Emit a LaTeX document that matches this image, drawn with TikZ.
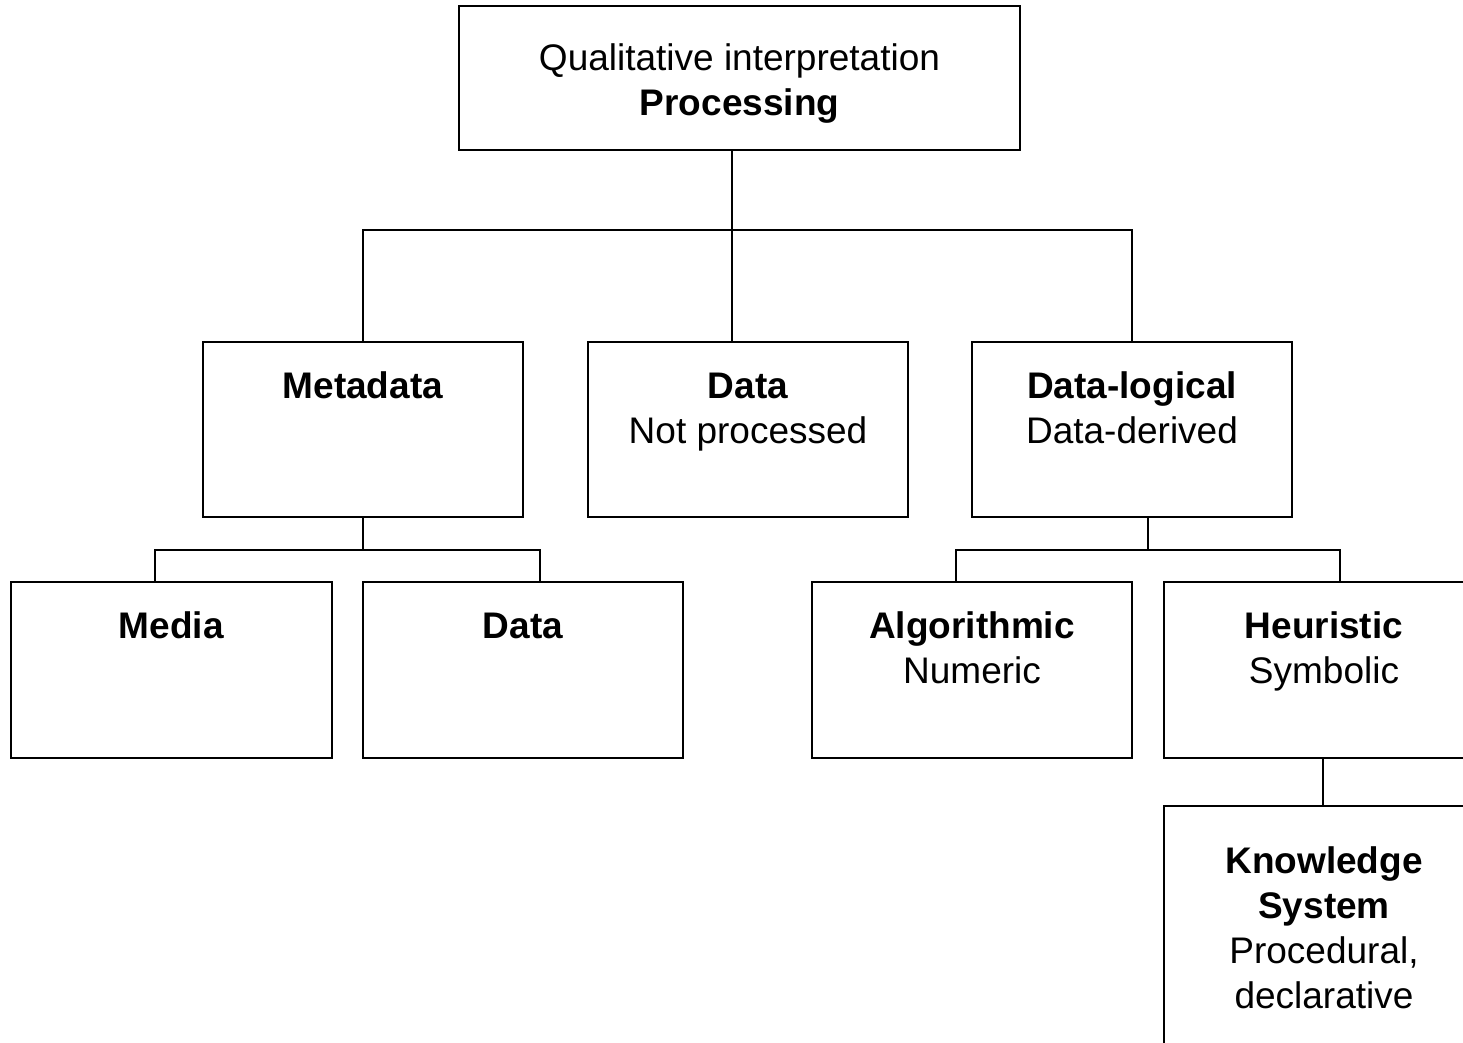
\documentclass[tikz,border=0pt]{standalone}
\usepackage{fontspec}
\setmainfont{Liberation Sans}
\newcommand\lnstrut{\rule{0pt}{30pt}}
\tikzset{
  box/.style={draw=black, line width=2pt, fill=white, rectangle, anchor=north west,
              inner sep=0pt, outer sep=0pt, minimum width=320pt, minimum height=176pt},
  txt/.style={anchor=north, inner sep=0pt, align=center,
              font=\fontsize{37}{45}\selectfont},
  link/.style={draw=black, line width=2pt, line cap=rect}
}
\begin{document}
\begin{tikzpicture}[x=1pt, y=1pt]
  \useasboundingbox (0,0) rectangle (1463,-1042);
  \fill[white] (0,0) rectangle (1463,-1042);
  \clip (0,0) rectangle (1463,-1042);

  % boxes
  \node[box, minimum width=561pt, minimum height=144pt] (top) at (459,-6) {};
  \node[box, minimum height=175pt] (meta)  at (203,-342) {};
  \node[box, minimum height=175pt] (data)  at (588,-342) {};
  \node[box, minimum height=175pt] (dlog)  at (972,-342) {};
  \node[box, minimum width=321pt]  (media) at (11,-582) {};
  \node[box]                       (data2) at (363,-582) {};
  \node[box]                       (alg)   at (812,-582) {};
  \node[box]                       (heur)  at (1164,-582) {};
  \node[box, minimum height=260pt] (know)  at (1164,-806) {};

  % labels
  \node[txt] (topT)   at ([yshift=-34.5pt]top.north)  {\lnstrut Qualitative interpretation\\\textbf{Processing}};
  \node[txt] (metaT)  at ([yshift=-26pt]meta.north)   {\lnstrut\textbf{Metadata}};
  \node[txt] (dataT)  at ([yshift=-26pt]data.north)   {\lnstrut\textbf{Data}\\Not processed};
  \node[txt] (dlogT)  at ([yshift=-26pt]dlog.north)   {\lnstrut\textbf{Data-logical}\\Data-derived};
  \node[txt] (mediaT) at ([yshift=-26pt]media.north)  {\lnstrut\textbf{Media}};
  \node[txt] (data2T) at ([yshift=-26pt]data2.north)  {\lnstrut\textbf{Data}};
  \node[txt] (algT)   at ([yshift=-26pt]alg.north)    {\lnstrut\textbf{Algorithmic}\\Numeric};
  \node[txt] (heurT)  at ([yshift=-26pt]heur.north)   {\lnstrut\textbf{Heuristic}\\Symbolic};
  \node[txt] (knowT)  at ([yshift=-37pt]know.north)   {\lnstrut\textbf{Knowledge}\\\textbf{System}\\Procedural,\\declarative};

  % junction points of the connector buses
  \coordinate (busA) at (732,-230);
  \coordinate (busB) at (363,-550);
  \coordinate (busBl) at (155,-550);
  \coordinate (busBr) at (540,-550);
  \coordinate (busC) at (1148,-550);
  \coordinate (busCl) at (956,-550);
  \coordinate (busCr) at (1340,-550);
  \coordinate (hk) at (1323,-780);

  % first level
  \draw[link] (top.south -| busA) -- (busA);
  \draw[link] (meta.north) |- (dlog.north |- busA) -- (dlog.north);
  \draw[link] (busA) -- (data.north -| busA);

  % under Metadata
  \draw[link] (meta.south) -- (busB);
  \draw[link] (media.north -| busBl) -- (busBl) -- (busBr) -- (data2.north -| busBr);

  % under Data-logical
  \draw[link] (dlog.south -| busC) -- (busC);
  \draw[link] (alg.north -| busCl) -- (busCl) -- (busCr) -- (heur.north -| busCr);

  % Heuristic to Knowledge System
  \draw[link] (heur.south -| hk) -- (know.north -| hk);
\end{tikzpicture}
\end{document}
